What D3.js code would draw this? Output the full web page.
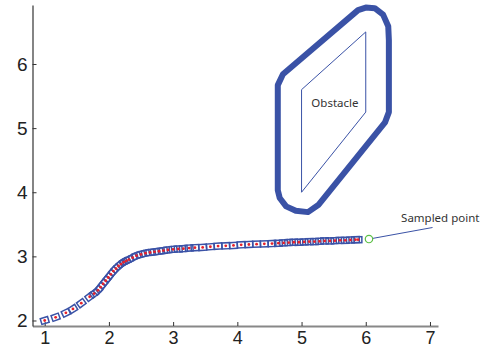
<!DOCTYPE html>
<html>
<head>
<meta charset="utf-8">
<script src="https://cdn.jsdelivr.net/npm/d3@7"></script>
<style>
  body { margin: 0; background: #fff; }
  svg { display: block; }
</style>
</head>
<body>
<div id="chart"></div>
<script>
// path samples
const pathX = [1.0, 1.17, 1.33, 1.44, 1.57, 1.70, 1.77, 1.83, 1.87, 1.91, 1.95, 1.99, 2.03, 2.07, 2.11,
    2.15, 2.19, 2.23, 2.27, 2.31, 2.37, 2.43, 2.50, 2.57, 2.64, 2.71, 2.78, 2.85, 2.92, 3.00, 3.08,
    3.16, 3.25, 3.34, 3.46, 3.58, 3.70, 3.82, 3.94, 4.06, 4.18, 4.30, 4.42, 4.54, 4.64, 4.72, 4.80,
    4.88, 4.96, 5.04, 5.12, 5.20, 5.28, 5.36, 5.44, 5.52, 5.60, 5.68, 5.76, 5.84, 5.88];
const pathY = [2.00, 2.05, 2.12, 2.18, 2.27, 2.37, 2.42, 2.47, 2.52, 2.57, 2.62, 2.67, 2.72, 2.77, 2.81,
    2.85, 2.88, 2.91, 2.93, 2.95, 2.98, 3.01, 3.03, 3.05, 3.06, 3.07, 3.08, 3.09, 3.10, 3.11, 3.115,
    3.12, 3.13, 3.135, 3.14, 3.15, 3.16, 3.165, 3.17, 3.18, 3.185, 3.19, 3.195, 3.20, 3.205, 3.21, 3.215,
    3.22, 3.22, 3.225, 3.23, 3.23, 3.235, 3.24, 3.24, 3.245, 3.25, 3.25, 3.255, 3.26, 3.26];

// obstacle and its safety boundary
const obstacleX = [5.0, 6.0, 6.0, 5.0];
const obstacleY = [4.0, 5.25, 6.5, 5.6];
const boundX = [4.63, 4.71, 5.88, 6.00, 6.14, 6.27, 6.35, 6.36, 6.36, 6.30, 5.26, 5.10, 4.91, 4.76, 4.66, 4.63];
const boundY = [5.67, 5.84, 6.84, 6.88, 6.87, 6.77, 6.59, 6.37, 5.25, 5.09, 3.80, 3.69, 3.71, 3.78, 3.91, 4.03];

const sampled = [6.05, 3.27];
const calloutEnd = [7.04, 3.45];
const xTicks = [1, 2, 3, 4, 5, 6, 7];
const yTicks = [2, 3, 4, 5, 6];

const width = 490, height = 350;
const blue = "#3a52a6";

const svg = d3.select("#chart").append("svg").attr("width", width).attr("height", height);

const x = d3.scaleLinear().domain([0.81, 7.125]).range([32.5, 438]);
const y = d3.scaleLinear().domain([1.914, 6.92]).range([326, 5]);

// axes
const xAxis = svg.append("g")
    .attr("transform", "translate(0," + y.range()[0] + ")")
    .call(d3.axisBottom(x).tickValues(xTicks).tickFormat(d3.format("d"))
        .tickSizeInner(-4).tickSizeOuter(0).tickPadding(5));
xAxis.select(".domain").attr("stroke", "#888").attr("stroke-width", 2);
xAxis.selectAll(".tick line").attr("stroke", "#333");
xAxis.selectAll("text").attr("font-family", "Liberation Sans, Arial, sans-serif").attr("font-size", 18).attr("fill", "#222");

const yAxis = svg.append("g")
    .attr("transform", "translate(" + x.range()[0] + ",0)")
    .call(d3.axisLeft(y).tickValues(yTicks).tickFormat(d3.format("d"))
        .tickSizeInner(-4).tickSizeOuter(0).tickPadding(5));
yAxis.select(".domain").attr("stroke", "#333").attr("stroke-width", 1.2);
yAxis.selectAll(".tick line").attr("stroke", "#333");
yAxis.selectAll("text").attr("font-family", "Liberation Sans, Arial, sans-serif").attr("font-size", 19).attr("fill", "#222");

// obstacle
const poly = (xs, ys) => xs.map((v, i) => x(v) + "," + y(ys[i])).join(" ");
svg.append("polygon")
    .attr("points", poly(boundX, boundY))
    .attr("fill", "none").attr("stroke", blue).attr("stroke-width", 6).attr("stroke-linejoin", "round");
svg.append("polygon")
    .attr("points", poly(obstacleX, obstacleY))
    .attr("fill", "none").attr("stroke", blue).attr("stroke-width", 1);
svg.append("text")
    .attr("x", x(5.52)).attr("y", y(5.33))
    .attr("text-anchor", "middle")
    .attr("font-family", "Noto Sans, sans-serif").attr("font-size", 11.5).attr("fill", "#333")
    .text("Obstacle");

// path markers, each box turned along the local heading
const pts = pathX.map((v, i) => ({x: v, y: pathY[i]}));
const heading = i => {
    const a = pts[Math.max(0, i - 1)], b = pts[Math.min(pts.length - 1, i + 1)];
    return Math.atan2(y(b.y) - y(a.y), x(b.x) - x(a.x)) * 180 / Math.PI;
};
svg.append("g").selectAll("rect")
    .data(pts).enter().append("rect")
    .attr("x", -3.8).attr("y", -3)
    .attr("width", 7.6).attr("height", 6)
    .attr("transform", (d, i) => "translate(" + x(d.x) + "," + y(d.y) + ") rotate(" + heading(i) + ")")
    .attr("fill", "none").attr("stroke", blue).attr("stroke-width", 1.5);
svg.append("g").selectAll("circle")
    .data(pts).enter().append("circle")
    .attr("cx", d => x(d.x)).attr("cy", d => y(d.y))
    .attr("r", 1.4).attr("fill", "#e8222a");

// sampled point + callout
svg.append("line")
    .attr("x1", x(sampled[0]) + 4).attr("y1", y(sampled[1]) - 0.7)
    .attr("x2", x(calloutEnd[0])).attr("y2", y(calloutEnd[1]))
    .attr("stroke", blue).attr("stroke-width", 1);
svg.append("circle")
    .attr("cx", x(sampled[0])).attr("cy", y(sampled[1])).attr("r", 3.7)
    .attr("fill", "none").attr("stroke", "#5bbf45").attr("stroke-width", 1.2);
svg.append("text")
    .attr("x", x(6.55)).attr("y", y(3.54))
    .attr("font-family", "Noto Sans, sans-serif").attr("font-size", 11.5).attr("fill", "#333")
    .text("Sampled point");
</script>
</body>
</html>
